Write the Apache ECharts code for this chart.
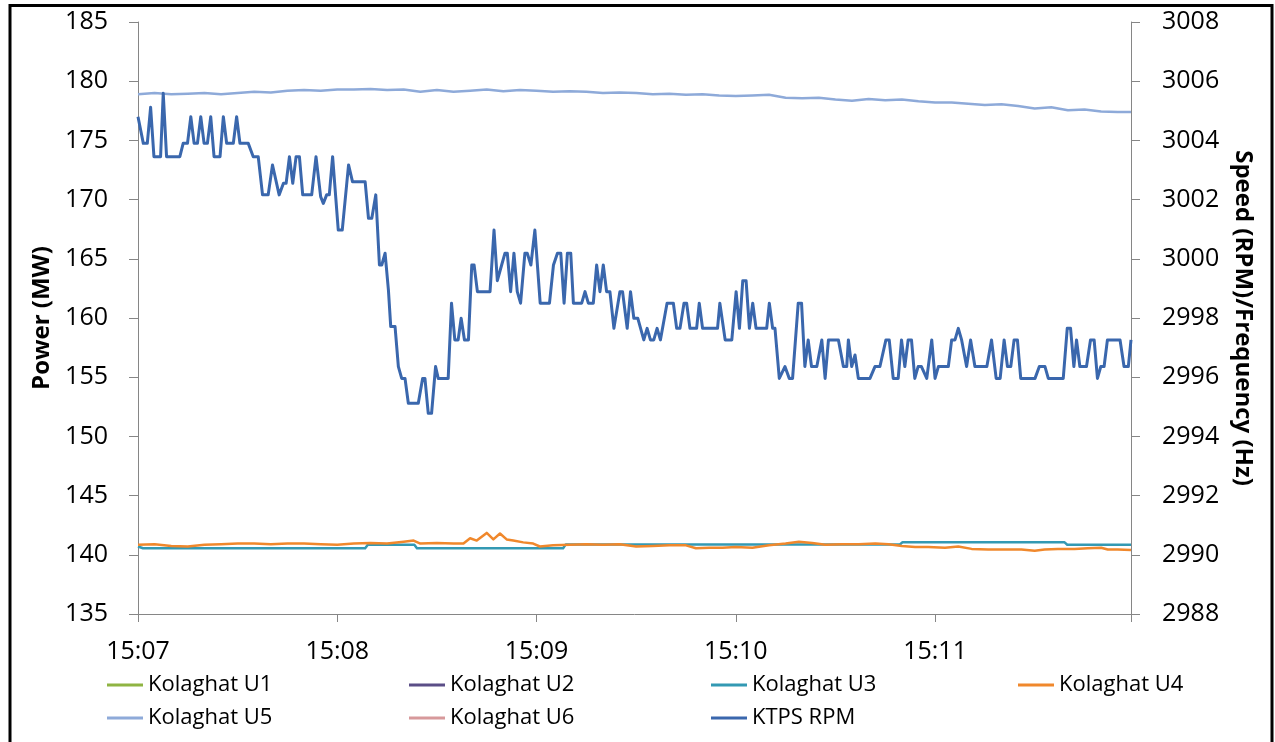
<!DOCTYPE html>
<html><head><meta charset="utf-8">
<script src="https://cdn.jsdelivr.net/npm/echarts@6/dist/echarts.min.js"></script>
<style>html,body{margin:0;padding:0;background:#fff}#c{width:1275px;height:742px}</style>
</head><body><div id="c"></div>
<script>
// x axis: seconds after 15:07:00
const xTickLabels = ['15:07', '15:08', '15:09', '15:10', '15:11'];
const seriesNames = ['Kolaghat U1', 'Kolaghat U2', 'Kolaghat U3', 'Kolaghat U4', 'Kolaghat U5', 'Kolaghat U6', 'KTPS RPM'];

// Units with no visible data in range
const u1Sec = [], u1Val = [];
const u2Sec = [], u2Val = [];
const u6Sec = [], u6Val = [];

// Kolaghat U3 (MW)
const u3Sec = [0, 1.5, 68.4, 69.2, 83.2, 84, 128, 128.8, 229.4, 230.2, 279, 279.8, 299];
const u3Val = [140.7, 140.55, 140.55, 140.85, 140.85, 140.55, 140.55, 140.88, 140.88, 141.05, 141.05, 140.85, 140.85];

// Kolaghat U4 (MW)
const u4Sec = [0, 5, 10, 15, 20, 25, 30, 35, 40, 45, 50, 55, 60, 65, 70, 75, 80, 83, 85, 90, 95, 98, 100, 102, 105, 107, 109, 111, 113, 116, 119, 121, 125, 130, 135, 140, 145, 150, 155, 160, 165, 168, 172, 176, 180, 185, 190, 195, 199, 203, 207, 212, 217, 222, 226, 230, 234, 238, 243, 247, 251, 256, 261, 266, 270, 273, 277, 282, 286, 290, 292, 295, 299];
const u4Val = [140.85, 140.9, 140.75, 140.7, 140.85, 140.9, 140.95, 140.95, 140.9, 140.95, 140.95, 140.9, 140.85, 140.95, 141.0, 140.95, 141.1, 141.2, 140.95, 141.0, 140.95, 140.95, 141.4, 141.2, 141.85, 141.3, 141.8, 141.3, 141.2, 141.05, 140.95, 140.7, 140.8, 140.85, 140.9, 140.85, 140.9, 140.7, 140.75, 140.8, 140.8, 140.55, 140.6, 140.6, 140.65, 140.6, 140.8, 140.95, 141.1, 141.0, 140.85, 140.9, 140.9, 140.95, 140.9, 140.75, 140.65, 140.65, 140.6, 140.7, 140.5, 140.45, 140.45, 140.45, 140.35, 140.45, 140.5, 140.5, 140.55, 140.6, 140.45, 140.45, 140.4];

// Kolaghat U5 (MW)
const u5Sec = [0, 5, 10, 15, 20, 25, 30, 35, 40, 45, 50, 55, 60, 65, 70, 75, 80, 85, 90, 95, 100, 105, 110, 115, 120, 125, 130, 135, 140, 145, 150, 155, 160, 165, 170, 175, 180, 185, 190, 195, 200, 205, 210, 215, 220, 225, 230, 235, 240, 245, 250, 255, 260, 265, 270, 275, 280, 285, 290, 295, 299];
const u5Val = [178.9, 179.0, 178.9, 178.95, 179.0, 178.9, 179.0, 179.1, 179.05, 179.2, 179.25, 179.2, 179.3, 179.3, 179.35, 179.25, 179.3, 179.1, 179.25, 179.1, 179.2, 179.3, 179.15, 179.25, 179.2, 179.1, 179.15, 179.1, 179.0, 179.05, 179.0, 178.9, 178.95, 178.85, 178.9, 178.8, 178.75, 178.8, 178.85, 178.6, 178.55, 178.6, 178.45, 178.35, 178.5, 178.4, 178.45, 178.3, 178.2, 178.2, 178.1, 178.0, 178.05, 177.9, 177.7, 177.8, 177.55, 177.6, 177.45, 177.4, 177.4];

// KTPS RPM
const rpmSec = [0, 1.6, 2.8, 3.8, 4.8, 6.8, 7.6, 8.6, 12.6, 13.6, 14.9, 15.9, 16.9, 17.9, 18.9, 19.9, 20.9, 21.9, 22.9, 24.7, 25.7, 26.7, 28.7, 29.7, 30.7, 33.2, 34.7, 36.2, 37.5, 39.2, 40.5, 42.5, 43.8, 44.6, 45.6, 46.6, 47.6, 48.6, 49.6, 52.3, 53.6, 55.0, 55.8, 56.8, 57.6, 58.6, 60.3, 61.5, 63.4, 64.6, 68.4, 69.4, 70.4, 71.6, 72.7, 73.4, 74.4, 75.4, 76.1, 77.4, 78.4, 79.4, 80.4, 81.4, 84.4, 85.7, 86.4, 87.4, 88.4, 89.6, 90.4, 93.4, 94.4, 95.4, 96.4, 97.3, 98.3, 99.5, 100.5, 101.2, 102.2, 106.0, 107.2, 108.2, 109.5, 110.5, 111.2, 112.2, 113.2, 114.2, 115.2, 116.5, 117.2, 118.3, 119.5, 121.1, 123.9, 125.1, 126.3, 127.3, 128.3, 129.3, 130.3, 131.1, 133.6, 134.6, 135.6, 137.1, 138.1, 139.1, 140.1, 141.1, 142.1, 143.3, 145.1, 145.9, 147.3, 148.3, 149.3, 150.5, 152.3, 153.3, 154.3, 155.3, 156.3, 157.3, 159.3, 161.2, 162.2, 163.2, 164.4, 165.2, 166.2, 168.2, 169.0, 170.0, 174.5, 175.2, 176.8, 178.8, 180.1, 181.1, 182.1, 183.1, 184.1, 185.1, 186.1, 189.3, 190.1, 191.1, 191.8, 193.1, 194.8, 196.1, 197.1, 198.8, 199.8, 200.8, 201.8, 202.8, 204.4, 205.9, 206.9, 207.9, 210.9, 212.4, 213.4, 213.9, 214.9, 215.9, 216.9, 220.4, 221.9, 223.4, 225.2, 226.2, 227.4, 228.9, 229.9, 230.9, 231.9, 232.9, 233.9, 234.9, 235.9, 237.5, 239.0, 240.0, 241.0, 244.0, 245.0, 246.0, 247.0, 248.0, 249.5, 250.7, 252.0, 255.6, 257.0, 258.4, 259.6, 260.8, 261.8, 262.8, 263.8, 264.8, 265.8, 270.1, 271.4, 273.1, 274.1, 278.6, 279.8, 280.8, 281.8, 282.6, 283.6, 285.6, 286.8, 287.9, 288.9, 289.9, 290.9, 291.9, 295.7, 296.9, 298.2, 299];
const rpmVal = [3004.80, 3003.90, 3003.90, 3005.12, 3003.45, 3003.45, 3005.59, 3003.45, 3003.45, 3003.90, 3003.90, 3004.80, 3003.90, 3003.90, 3004.80, 3003.90, 3003.90, 3004.80, 3003.45, 3003.45, 3004.80, 3003.90, 3003.90, 3004.80, 3003.90, 3003.90, 3003.45, 3003.45, 3002.16, 3002.16, 3003.17, 3002.16, 3002.55, 3002.55, 3003.45, 3002.55, 3003.45, 3003.45, 3002.16, 3002.16, 3003.45, 3002.10, 3001.87, 3002.16, 3002.16, 3003.45, 3000.97, 3000.97, 3003.17, 3002.60, 3002.60, 3001.37, 3001.37, 3002.16, 2999.79, 2999.79, 3000.19, 2998.95, 2997.71, 2997.71, 2996.36, 2995.96, 2995.96, 2995.12, 2995.12, 2995.96, 2995.96, 2994.78, 2994.78, 2996.36, 2995.96, 2995.96, 2998.50, 2997.26, 2997.26, 2997.99, 2997.26, 2997.26, 2999.79, 2999.79, 2998.89, 2998.89, 3000.97, 2999.26, 2999.79, 3000.19, 3000.19, 2998.89, 3000.19, 2998.89, 2998.50, 3000.19, 3000.19, 2999.79, 3000.97, 2998.50, 2998.50, 2999.79, 3000.19, 3000.19, 2998.50, 3000.19, 3000.19, 2998.50, 2998.50, 2998.89, 2998.50, 2998.50, 2999.79, 2998.89, 2999.79, 2998.89, 2998.89, 2997.65, 2998.89, 2998.89, 2997.65, 2998.89, 2997.99, 2997.99, 2997.26, 2997.65, 2997.26, 2997.26, 2997.65, 2997.26, 2998.50, 2998.50, 2997.65, 2997.65, 2998.50, 2998.50, 2997.65, 2997.65, 2998.50, 2997.65, 2997.65, 2998.50, 2997.26, 2997.26, 2998.89, 2997.65, 2999.26, 2999.26, 2997.65, 2998.50, 2997.65, 2997.65, 2998.50, 2997.65, 2997.65, 2995.96, 2996.36, 2995.96, 2995.96, 2998.50, 2998.50, 2996.36, 2997.26, 2996.36, 2996.36, 2997.26, 2995.96, 2997.26, 2997.26, 2996.36, 2996.36, 2997.26, 2996.36, 2996.75, 2995.96, 2995.96, 2996.36, 2996.36, 2997.26, 2997.26, 2995.96, 2995.96, 2997.26, 2996.36, 2997.26, 2997.26, 2995.96, 2996.36, 2996.36, 2995.96, 2997.26, 2995.96, 2996.36, 2996.36, 2997.26, 2997.26, 2997.65, 2997.26, 2996.36, 2997.26, 2996.36, 2996.36, 2997.26, 2995.96, 2995.96, 2997.26, 2996.36, 2996.36, 2997.26, 2997.26, 2995.96, 2995.96, 2996.36, 2996.36, 2995.96, 2995.96, 2997.65, 2997.65, 2996.36, 2997.26, 2996.36, 2996.36, 2997.26, 2997.26, 2995.96, 2996.36, 2996.36, 2997.26, 2997.26, 2996.36, 2996.36, 2997.26];

const colors = ['#8fb443', '#5b4e87', '#3399b3', '#f0882c', '#8eaad9', '#d7999b', '#3a67ad'];
const secs = [u1Sec, u2Sec, u3Sec, u4Sec, u5Sec, u6Sec, rpmSec];
const vals = [u1Val, u2Val, u3Val, u4Val, u5Val, u6Val, rpmVal];
const widths = [2.5, 2.5, 2.5, 2.5, 2.5, 2.5, 3];

function pairs(ts, vs) { return ts.map((t, i) => [t, vs[i]]); }

const tickFont = { fontFamily: 'Open Sans', fontSize: 25, color: '#000' };
const axisGray = '#868686';

const legendPos = [[107, 674], [409, 674], [711, 674], [1018, 674], [107, 707], [409, 707], [711, 707]];
const legends = seriesNames.map((n, i) => ({
  data: [n], left: legendPos[i][0], top: legendPos[i][1], padding: 0,
  icon: 'rect', itemWidth: 36, itemHeight: 3,
  textStyle: { fontFamily: 'Open Sans', fontSize: 22, color: '#000' },
  selectedMode: false
}));

const chart = echarts.init(document.getElementById('c'), null, { renderer: 'canvas' });
chart.setOption({
  animation: false,
  backgroundColor: '#fff',
  grid: { left: 138, right: 144, top: 22, height: 592 },
  legend: legends,
  graphic: [{
    type: 'rect', silent: true, z: 100,
    shape: { x: 10, y: 5.5, width: 1262, height: 800 },
    style: { fill: 'none', stroke: '#000', lineWidth: 3 }
  }],
  xAxis: {
    type: 'value', min: 0, max: 299, interval: 60,
    splitLine: { show: false },
    axisLine: { lineStyle: { color: axisGray, width: 1 } },
    axisTick: { length: 8, lineStyle: { color: axisGray } },
    axisLabel: Object.assign({}, tickFont, {
      margin: 25,
      formatter: v => (v % 60 === 0 ? xTickLabels[v / 60] : '')
    })
  },
  yAxis: [{
    type: 'value', min: 135, max: 185, interval: 5, position: 'left',
    name: 'Power (MW)', nameLocation: 'middle', nameGap: 84, nameRotate: 90,
    nameTextStyle: { fontFamily: 'Open Sans', fontWeight: 'bold', fontSize: 24, color: '#000' },
    splitLine: { show: false },
    axisLine: { show: true, lineStyle: { color: axisGray, width: 1 } },
    axisTick: { show: true, length: 9, lineStyle: { color: axisGray } },
    axisLabel: Object.assign({}, tickFont, { margin: 30, formatter: v => String(v) })
  }, {
    type: 'value', min: 2988, max: 3008, interval: 2, position: 'right',
    name: 'Speed (RPM)/Frequency (Hz)', nameLocation: 'middle', nameGap: 100, nameRotate: -90,
    nameTextStyle: { fontFamily: 'Open Sans', fontWeight: 'bold', fontSize: 24, color: '#000' },
    splitLine: { show: false },
    axisLine: { show: true, lineStyle: { color: axisGray, width: 1 } },
    axisTick: { show: true, length: 9, lineStyle: { color: axisGray } },
    axisLabel: Object.assign({}, tickFont, { margin: 31, formatter: v => String(v) })
  }],
  series: seriesNames.map((n, i) => ({
    name: n, type: 'line', yAxisIndex: i === 6 ? 1 : 0,
    data: pairs(secs[i], vals[i]),
    showSymbol: false, symbol: 'none',
    color: colors[i],
    lineStyle: { color: colors[i], width: widths[i], join: 'round' },
    z: 2 + i
  }))
});
</script></body></html>
